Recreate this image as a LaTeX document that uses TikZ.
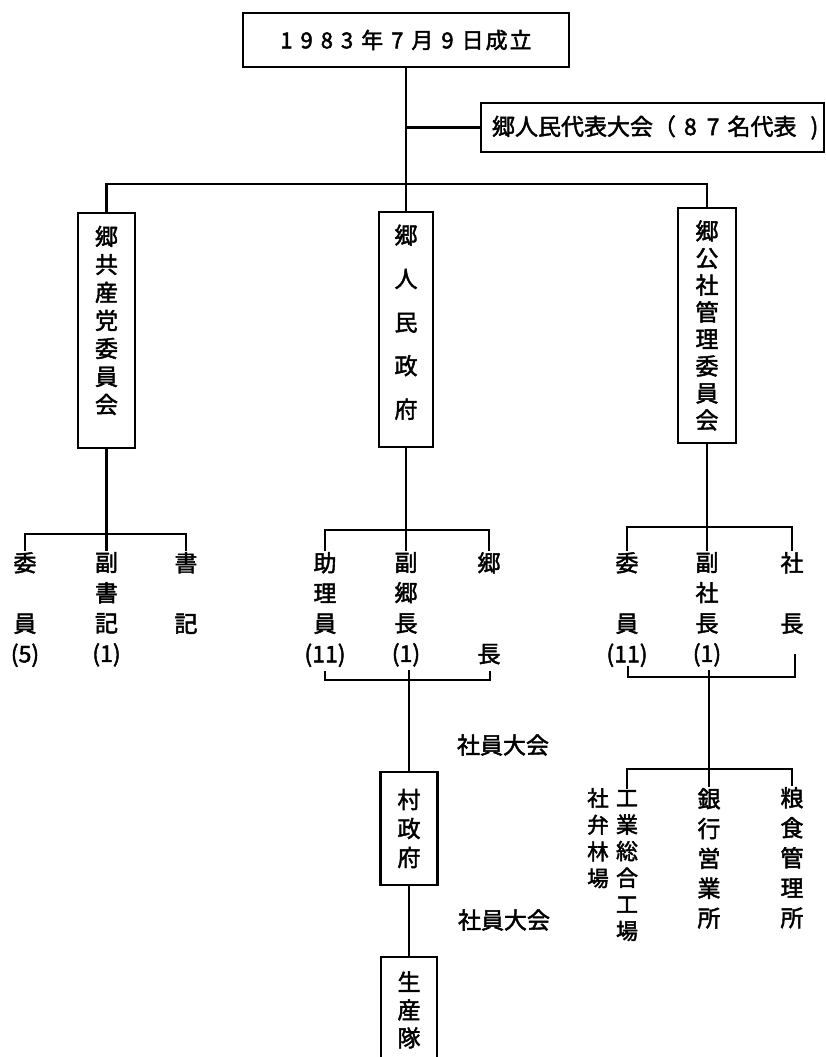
\documentclass[tikz,border=0pt]{standalone}
\usepackage{fontspec}
\setmainfont{Noto Sans CJK JP}[FakeBold=2]
\begin{document}
\begin{tikzpicture}[x=1pt,y=-1pt,
  line width=2.4pt,
  box/.style={draw, line width=2.4pt, inner sep=0pt, align=center},
  lab/.style={inner sep=0pt, align=center, anchor=north},
  conn/.style={line width=2.4pt},
]
\useasboundingbox (0,0) rectangle (826,1057);
\fill[white] (0,0) rectangle (826,1057);

% top boxes
\node[box, minimum width=326pt, minimum height=54pt, font=\fontsize{22}{26}\selectfont] (top) at (406,40)
  {1\hspace{8pt}9\hspace{8pt}8\hspace{8pt}3\hspace{8pt}年\hspace{8pt}7\hspace{8pt}月\hspace{8pt}9\hspace{8pt}日\hspace{2pt}成\hspace{2pt}立};
\node[box, minimum width=343pt, minimum height=49pt, font=\fontsize{23}{27}\selectfont] (rep) at (652.5,127.5)
  {\makebox[343pt][l]{\hspace{11pt}郷人民代表大会（\hspace{8pt}8\hspace{10pt}7\hspace{8pt}名代表\hspace{14pt})}};

% second level boxes
\node[box, minimum width=57pt, minimum height=235pt, font=\fontsize{23}{28}\selectfont] (party) at (106.5,330.5)
  {郷\\共\\産\\党\\委\\員\\会\\[-6pt]\mbox{}};
\node[box, minimum width=54pt, minimum height=235pt, font=\fontsize{23}{43.5}\selectfont] (gov) at (406,329.5)
  {郷\\人\\民\\政\\府\\[-27pt]\mbox{}};
\node[box, minimum width=58pt, minimum height=235pt, font=\fontsize{23}{27}\selectfont] (comm) at (707,325.5)
  {郷\\公\\社\\管\\理\\委\\員\\会};

% role labels
\begin{scope}[every node/.style={lab, font=\fontsize{23}{30.3}\selectfont}]
\node (L1) at (25,551) {委\\\mbox{}\\員\\(5)};
\node (L2) at (106.5,551) {副\\書\\記\\(1)};
\node (L3) at (186,551) {書\\\mbox{}\\記};
\node (M1) at (325,551) {助\\理\\員\\(11)};
\node (M2) at (406,551) {副\\郷\\長\\(1)};
\node (M3) at (489,551) {郷\\\mbox{}\\\mbox{}\\長};
\node (R1) at (627,551) {委\\\mbox{}\\員\\(11)};
\node (R2) at (707,551) {副\\社\\長\\(1)};
\node (R3) at (792,551) {社\\\mbox{}\\長};
\end{scope}

% village level
\node[box, minimum width=57pt, minimum height=113pt, font=\fontsize{23}{29}\selectfont] (village) at (409,828.5)
  {村\\政\\府};
\node[box, minimum width=56pt, minimum height=120pt, font=\fontsize{23}{28}\selectfont] (prod) at (409,1017)
  {生\\産\\隊\\[-12pt]\mbox{}};
\node[inner sep=0pt, font=\fontsize{23}{27}\selectfont] (as1) at (503,745) {社員大会};
\node[inner sep=0pt, font=\fontsize{23}{27}\selectfont] (as2) at (504,920) {社員大会};

% enterprise labels
\node[lab, font=\fontsize{21.5}{26.7}\selectfont] (B1) at (598,787) {社\\弁\\林\\場};
\node[lab, font=\fontsize{22}{26.6}\selectfont] (B2) at (627,789) {工\\業\\総\\合\\工\\場};
\node[lab, font=\fontsize{23}{29.8}\selectfont] (B3) at (709,787) {銀\\行\\営\\業\\所};
\node[lab, font=\fontsize{23}{30}\selectfont] (B4) at (792,786) {粮\\食\\管\\理\\所};

% connectors
\draw[conn] (top.south) -- (gov.north);
\coordinate (j1) at (406,127.5);
\draw[conn] (j1) -- (rep.west);
\draw[conn] (party.north) |- (comm.north |- 0,184) -- (comm.north);

\draw[conn] (party.south) -- (L2.north);
\draw[conn] (L1.north) |- (L3.north |- 0,534) -- (L3.north);

\draw[conn] (gov.south) -- (M2.north);
\draw[conn] (M1.north) |- (M3.north |- 0,530) -- (M3.north);

\draw[conn] (comm.south) -- (R2.north);
\draw[conn] (R1.north) |- (R3.north |- 0,527) -- (R3.north);

% lower brackets
\coordinate (mb1) at (325,671);
\coordinate (mb3) at (490,671);
\coordinate (mc) at (409,670);
\draw[conn] (mb1) |- (mb3 |- 0,680) -- (mb3);
\draw[conn] (mc) -- (village.north);
\draw[conn] (village.south) -- (prod.north);

\coordinate (rb1) at (628,666);
\coordinate (rb3) at (795,654);
\coordinate (rc) at (709,670);
\draw[conn] (rb1) |- (rb3 |- 0,677) -- (rb3);
\draw[conn] (rc) -- (B3.north);
\draw[conn] (B2.north) |- (B4.north |- 0,769) -- (B4.north);
\end{tikzpicture}
\end{document}
